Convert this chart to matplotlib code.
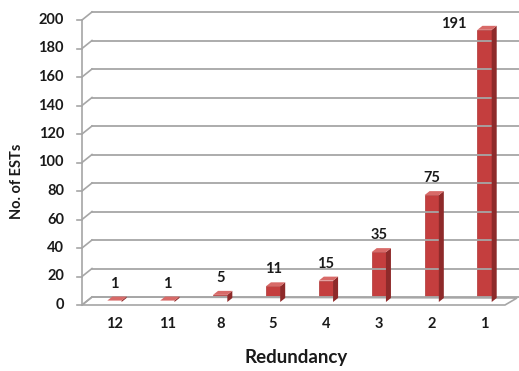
import matplotlib
matplotlib.use("Agg")
import matplotlib.pyplot as plt
from matplotlib.patches import Polygon
from matplotlib.lines import Line2D
from matplotlib.transforms import IdentityTransform, ScaledTranslation

# Data
redundancy = ["12", "11", "8", "5", "4", "3", "2", "1"]
est_counts = [1, 1, 5, 11, 15, 35, 75, 191]
y_ticks = list(range(0, 201, 20))

plt.rcParams['font.family'] = ['Lato', 'DejaVu Sans']

W, H = 519, 371
fig = plt.figure(figsize=(W / 100, H / 100), dpi=100)
fig.patch.set_facecolor('white')

# Front plane of the pseudo-3D axes
ax = fig.add_axes([82 / W, 1 - 305 / H, 423 / W, 285 / H])
ax.set_xlim(-0.5, len(redundancy) - 0.5)
ax.set_ylim(0, 200)
ax.axis('off')

ident = IdentityTransform()
grid_col = '#a6a6a6'
txt_col = '#1a1a1a'

# Depth offsets in pixels
back_dx, back_dy = 10, 8
bar_dx, bar_dy = 6, 3
side_dx, side_dy = 5, 4


def px(x, y):
    return ax.transData.transform((x, y))


x_lo, x_hi = -0.5, len(redundancy) - 0.5

# Floor
f0, f1 = px(x_lo, 0), px(x_hi, 0)
floor = Polygon([f0, f1, (f1[0] + back_dx + 2, f1[1] + back_dy - 1),
                 (f0[0] + back_dx, f0[1] + back_dy)],
                closed=True, facecolor='white', edgecolor=grid_col,
                linewidth=1.2, transform=ident, clip_on=False, zorder=1)
fig.add_artist(floor)

# Back wall gridlines, diagonals and ticks
for t in y_ticks:
    p = px(x_lo, t)
    fig.add_artist(Line2D([p[0] + back_dx, W + 5], [p[1] + back_dy, p[1] + back_dy],
                          color=grid_col, linewidth=1.3, transform=ident, zorder=1))
    fig.add_artist(Line2D([p[0], p[0] + back_dx], [p[1], p[1] + back_dy],
                          color=grid_col, linewidth=1.2, transform=ident, zorder=1))
    fig.add_artist(Line2D([p[0] - 5, p[0]], [p[1], p[1]],
                          color=grid_col, linewidth=1.2, transform=ident, zorder=1))
    fig.text(p[0] - 18, p[1], str(t), transform=ident, ha='right', va='center',
             fontsize=10.5, fontweight='bold', color=txt_col)

a0, a1 = px(x_lo, 0), px(x_lo, 200)
fig.add_artist(Line2D([a0[0], a1[0]], [a0[1], a1[1]], color=grid_col,
                      linewidth=1.2, transform=ident, zorder=1))

# Bars: front faces through the data scale, shifted to mid depth
bar_w = 0.27
shift = ax.transData + ScaledTranslation(bar_dx / 100, bar_dy / 100, fig.dpi_scale_trans)
bars = ax.bar(range(len(est_counts)), est_counts, width=bar_w, color='#c43e3e',
              edgecolor='#b03535', linewidth=0.5, zorder=3)
for b in bars:
    b.set_transform(shift)
    b.set_clip_on(False)

for i, v in enumerate(est_counts):
    bl = px(i - bar_w / 2, 0) + (bar_dx, bar_dy)
    tr = px(i + bar_w / 2, v) + (bar_dx, bar_dy)
    side = Polygon([(tr[0], bl[1]), (tr[0] + side_dx, bl[1] + side_dy),
                    (tr[0] + side_dx, tr[1] + side_dy), (tr[0], tr[1])],
                   closed=True, facecolor='#8e2a2a', edgecolor='none',
                   transform=ident, zorder=4)
    top = Polygon([(bl[0], tr[1]), (tr[0], tr[1]), (tr[0] + side_dx, tr[1] + side_dy),
                   (bl[0] + side_dx, tr[1] + side_dy)],
                  closed=True, facecolor='#d86a68', edgecolor='none',
                  transform=ident, zorder=4)
    fig.add_artist(side)
    fig.add_artist(top)

    cx = (bl[0] + tr[0]) / 2
    if v == max(est_counts):
        fig.text(cx - 31, tr[1] + 6, str(v), transform=ident, ha='center', va='center',
                 fontsize=10.5, fontweight='bold', color=txt_col)
    else:
        fig.text(cx, tr[1] + 17, str(v), transform=ident, ha='center', va='center',
                 fontsize=10.5, fontweight='bold', color=txt_col)

    c = px(i, 0)
    fig.text(c[0] + 6, c[1] - 19, redundancy[i], transform=ident, ha='center',
             va='center', fontsize=10.5, fontweight='bold', color=txt_col)

# Axis titles
fig.text(296 / W, 1 - 357 / H, "Redundancy", ha='center', va='center',
         fontsize=13.5, fontweight='bold', color=txt_col)
fig.text(17 / W, 1 - 181 / H, "No. of ESTs", ha='center', va='center', rotation=90,
         fontsize=10.5, fontweight='bold', color=txt_col)

fig.savefig("out.png", dpi=100, facecolor='white')
